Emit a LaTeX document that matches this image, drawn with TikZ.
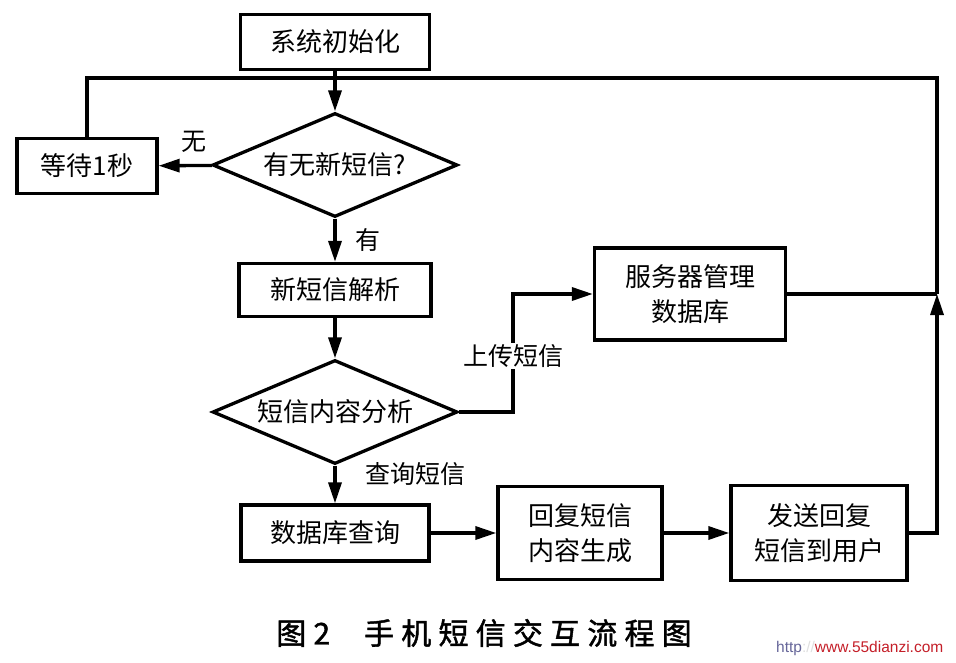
\documentclass[tikz,border=0pt]{standalone}
\usepackage{fontspec}
\newfontfamily\cjk{Noto Sans CJK SC}
\newfontfamily\capcjk[LetterSpace=24,FakeBold=1.5]{Noto Sans CJK SC}
\newfontfamily\webfont{Liberation Sans}
\usetikzlibrary{arrows.meta,shapes.geometric}
\definecolor{R}{RGB}{196, 30, 40}

\tikzset{
  box/.style={draw, line width=3.3pt, align=center, inner sep=0pt,
    font=\cjk\fontsize{26}{35}\selectfont},
  decision/.style={draw, diamond, aspect=2.36, line width=3.3pt, inner sep=0pt,
    minimum width=245pt, minimum height=104pt, font=\cjk\fontsize{26}{35}\selectfont},
  lbl/.style={font=\cjk\fontsize{25}{30}\selectfont, inner sep=1pt},
  line/.style={line width=3.3pt},
  arr/.style={line, -{Triangle[length=21pt,width=13pt]}}
}

\begin{document}
\begin{tikzpicture}[x=1pt,y=-1pt]
    \useasboundingbox (0,0) rectangle (956,663);

    %Cajas y decisiones
    \node[box, minimum width=189pt, minimum height=55pt] (init) at (335,42) {系统初始化};
    \node[decision] (ask) at (335,165) {有无新短信?};
    \node[box, minimum width=140pt, minimum height=55pt] (wait) at (87,166) {等待1秒};
    \node[box, minimum width=192pt, minimum height=53pt] (parse) at (335,290) {新短信解析};
    \node[decision] (analyse) at (335,412) {短信内容分析};
    \node[box, minimum width=191pt, minimum height=92pt] (server) at (690,294) {服务器管理\\数据库};
    \node[box, minimum width=188pt, minimum height=56pt] (query) at (335,533) {数据库查询};
    \node[box, minimum width=164pt, minimum height=93pt] (reply) at (580,533) {回复短信\\内容生成};
    \node[box, minimum width=176pt, minimum height=95pt] (send) at (819,533) {发送回复\\短信到用户};

    %Puntos de union
    \coordinate (top) at (335,78);
    \coordinate (join) at (937,294);
    \coordinate (bend) at (513,294);

    %Flechas principales
    \draw[arr] (init) -- (ask);
    \draw[arr] (ask) -- (wait);
    \draw[arr] (ask) -- (parse);
    \draw[arr] (parse) -- (analyse);
    \draw[arr] (analyse) -- (query);
    \draw[arr] (query) -- (reply);
    \draw[arr] (reply) -- (send);

    %Rama de subida al servidor
    \draw[arr] (analyse.east) -| (bend) -- (server.west);
    \node[lbl, fill=white] (upload) at (513,356) {上传短信};

    %Lazo de retorno
    \draw[arr] (send.east) -| (join);
    \draw[line] (server.east) -- (join);
    \draw[line] (join) |- (top);
    \draw[line] (wait.north) |- (top);

    %Etiquetas
    \node[lbl] (no) at (194,142) {无};
    \node[lbl] (yes) at (368,240) {有};
    \node[lbl] (ask2) at (415,474) {查询短信};

    %Titulo
    \node[font=\capcjk\fontsize{30}{32}\selectfont] (caption) at (484,633)
        {图2\hspace{34pt}手机短信交互流程图};
    \node[font=\webfont\fontsize{15.5}{18}\selectfont, anchor=west, inner sep=0pt] (web) at (776,648)
        {\textcolor{gray!80!blue}{http}\textcolor{gray!25}{://}\textcolor{R}{www.55dianzi.com}};
\end{tikzpicture}
\end{document}
